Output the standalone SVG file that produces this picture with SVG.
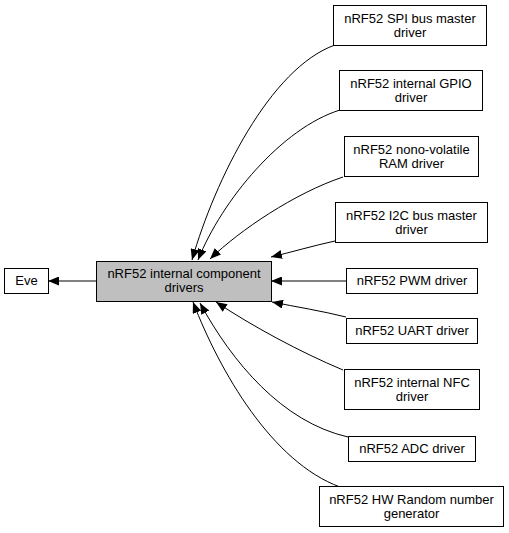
<svg xmlns="http://www.w3.org/2000/svg" width="509" height="533" viewBox="0 0 509 533">
<defs>
<style>
.box{fill:#ffffff;stroke:#000000;stroke-width:1}
.main{fill:#bfbfbf;stroke:#000000;stroke-width:1}
.t{font-family:"Liberation Sans",Arial,sans-serif;font-size:13px;fill:#000000;text-anchor:middle}
.e{fill:none;stroke:#000000;stroke-width:1;marker-end:url(#ah)}
</style>
<marker id="ah" markerUnits="userSpaceOnUse" markerWidth="12" markerHeight="9" refX="11" refY="4.5" orient="auto">
<path d="M0,0 L11,4.5 L0,9 z" fill="#000000"/>
</marker>
</defs>
<rect width="509" height="533" fill="#ffffff"/>
<g id="edges">
<path class="e" d="M96,281 L48,281"/>
<path class="e" d="M335,45 C270,68 215,180 192,260"/>
<path class="e" d="M340,110 C282,128 222,200 198,260"/>
<path class="e" d="M343,177 C295,193 240,230 210,259"/>
<path class="e" d="M335,241 C312,246 292,252 271,257"/>
<path class="e" d="M346,281 L271,281"/>
<path class="e" d="M346,317 C322,311 297,307 272,302"/>
<path class="e" d="M343,370 C300,352 252,326 216,302"/>
<path class="e" d="M348,437 C282,422 232,362 200,303"/>
<path class="e" d="M340,487 C272,462 220,372 193,302"/>
</g>
<g id="eve"><rect class="box" x="4.5" y="268.5" width="44" height="25"/><text class="t" x="26.5" y="285">Eve</text></g>
<g id="main"><rect class="main" x="96.5" y="261.5" width="175" height="40"/><text class="t" x="184" y="278">nRF52 internal component</text><text class="t" x="184" y="292">drivers</text></g>
<g id="spi"><rect class="box" x="333.5" y="5.5" width="153" height="40"/><text class="t" x="410" y="23">nRF52 SPI bus master</text><text class="t" x="410" y="37">driver</text></g>
<g id="gpio"><rect class="box" x="339.5" y="70.5" width="143" height="40"/><text class="t" x="411" y="88">nRF52 internal GPIO</text><text class="t" x="411" y="102">driver</text></g>
<g id="nvram"><rect class="box" x="344.5" y="136.5" width="134" height="40"/><text class="t" x="411.5" y="154">nRF52 nono-volatile</text><text class="t" x="411.5" y="168">RAM driver</text></g>
<g id="i2c"><rect class="box" x="335.5" y="202.5" width="152" height="40"/><text class="t" x="411.5" y="220">nRF52 I2C bus master</text><text class="t" x="411.5" y="234">driver</text></g>
<g id="pwm"><rect class="box" x="346.5" y="268.5" width="131" height="25"/><text class="t" x="412" y="285">nRF52 PWM driver</text></g>
<g id="uart"><rect class="box" x="346.5" y="318.5" width="131" height="25"/><text class="t" x="412" y="335">nRF52 UART driver</text></g>
<g id="nfc"><rect class="box" x="344.5" y="369.5" width="135" height="40"/><text class="t" x="412" y="387">nRF52 internal NFC</text><text class="t" x="412" y="401">driver</text></g>
<g id="adc"><rect class="box" x="348.5" y="436.5" width="127" height="25"/><text class="t" x="412" y="453">nRF52 ADC driver</text></g>
<g id="rng"><rect class="box" x="319.5" y="486.5" width="184" height="40"/><text class="t" x="411.5" y="504">nRF52 HW Random number</text><text class="t" x="411.5" y="518">generator</text></g>
</svg>
